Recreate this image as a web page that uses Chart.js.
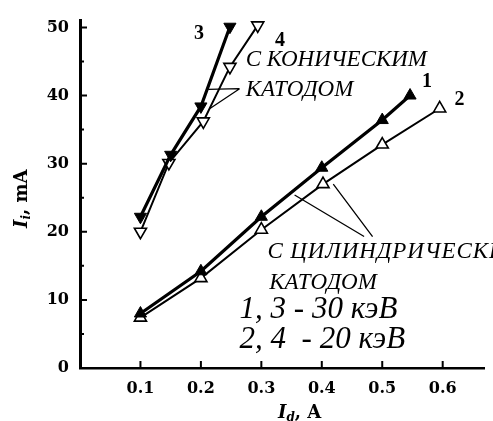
<!DOCTYPE html>
<html lang="ru">
<head>
    <meta charset="UTF-8">
    <title>Ii от Id</title>
    <script src="https://cdn.jsdelivr.net/npm/chart.js"></script>
    <style>
        body {
            margin: 0;
            padding: 0;
            background: #fff;
        }
        .chart-container {
            width: 493px;
            height: 421px;
        }
    </style>
</head>
<body>
    <div class="chart-container">
        <canvas id="ionChart" width="493" height="421"></canvas>
    </div>

    <script>
        // данные (Id в А, Ii в мА)
        const xS1 = [0.1, 0.2, 0.3, 0.4, 0.5, 0.546];
        const yS1 = [8.0, 14.2, 22.2, 29.4, 36.4, 40.0];

        const xS2 = [0.1, 0.2, 0.3, 0.402, 0.5, 0.595];
        const yS2 = [7.4, 13.2, 20.3, 27.0, 32.8, 38.1];

        const xS3 = [0.1, 0.15, 0.2, 0.248];
        const yS3 = [22.2, 31.3, 38.4, 50.1];

        const xS4 = [0.1, 0.147, 0.204, 0.248, 0.294];
        const yS4 = [20.0, 30.1, 36.2, 44.2, 50.3];

        const xTicks = [0.1, 0.2, 0.3, 0.4, 0.5, 0.6];
        const yTicks = [0, 10, 20, 30, 40, 50];
        const yMinorTicks = [5, 15, 25, 35, 45];

        function pts(xs, ys) {
            return xs.map((x, i) => ({ x: x, y: ys[i] }));
        }

        // подписи на поле графика
        const labels = [
            { text: '3', x: 0.197, y: 49.0, font: 'bold 20px "Liberation Serif"', align: 'center' },
            { text: '4', x: 0.331, y: 48.0, font: 'bold 20px "Liberation Serif"', align: 'center' },
            { text: '1', x: 0.574, y: 42.0, font: 'bold 20px "Liberation Serif"', align: 'center' },
            { text: '2', x: 0.628, y: 39.3, font: 'bold 20px "Liberation Serif"', align: 'center' },
            { text: 'С КОНИЧЕСКИМ', x: 0.274, y: 44.3, font: 'italic 23px "Liberation Serif"', align: 'left', base: true },
            { text: 'КАТОДОМ', x: 0.274, y: 39.9, font: 'italic 23px "Liberation Serif"', align: 'left', base: true },
            { text: 'С ЦИЛИНДРИЧЕСКИМ', x: 0.310, y: 16.1, font: 'italic 23px "Liberation Serif"', align: 'left', base: true, spacing: '0.9px' },
            { text: 'КАТОДОМ', x: 0.313, y: 11.6, font: 'italic 23px "Liberation Serif"', align: 'left', base: true },
            { text: '1, 3 - 30 кэВ', x: 0.264, y: 7.4, font: 'italic 31px "Liberation Serif"', align: 'left', base: true },
            { text: '2, 4  - 20 кэВ', x: 0.264, y: 3.0, font: 'italic 31px "Liberation Serif"', align: 'left', base: true }
        ];

        // выноски
        const leaders = [
            [[0.264, 41.0], [0.212, 40.9]],
            [[0.264, 41.0], [0.215, 38.1]],
            [[0.355, 25.4], [0.470, 19.3]],
            [[0.419, 27.0], [0.484, 19.3]]
        ];

        const decorPlugin = {
            id: 'decor',
            afterDatasetsDraw(chart) {
                const ctx = chart.ctx;
                const xs = chart.scales.x;
                const ys = chart.scales.y;
                const left = chart.chartArea.left;
                const bottom = chart.chartArea.bottom;
                ctx.save();
                ctx.strokeStyle = '#000';
                ctx.fillStyle = '#000';

                // засечки внутрь
                ctx.lineWidth = 2;
                ctx.beginPath();
                yTicks.forEach(v => {
                    const p = ys.getPixelForValue(v);
                    ctx.moveTo(left, p);
                    ctx.lineTo(left + 7, p);
                });
                yMinorTicks.forEach(v => {
                    const p = ys.getPixelForValue(v);
                    ctx.moveTo(left, p);
                    ctx.lineTo(left + 4, p);
                });
                xTicks.forEach(v => {
                    const p = xs.getPixelForValue(v);
                    ctx.moveTo(p, bottom);
                    ctx.lineTo(p, bottom - 7);
                });
                ctx.stroke();

                // выноски
                ctx.lineWidth = 1.3;
                ctx.beginPath();
                leaders.forEach(l => {
                    ctx.moveTo(xs.getPixelForValue(l[0][0]), ys.getPixelForValue(l[0][1]));
                    ctx.lineTo(xs.getPixelForValue(l[1][0]), ys.getPixelForValue(l[1][1]));
                });
                ctx.stroke();

                labels.forEach(t => {
                    ctx.font = t.font;
                    ctx.letterSpacing = t.spacing || '0px';
                    ctx.textAlign = t.align;
                    ctx.textBaseline = t.base ? 'alphabetic' : 'middle';
                    ctx.fillText(t.text, xs.getPixelForValue(t.x), ys.getPixelForValue(t.y));
                });
                ctx.letterSpacing = '0px';

                // подпись оси X: Id, A
                const bold = 'bold 18px "DejaVu Serif"';
                let cx = 278, cy = 418;
                ctx.textAlign = 'left';
                ctx.textBaseline = 'alphabetic';
                ctx.font = 'italic bold 18px "DejaVu Serif"';
                ctx.fillText('I', cx, cy);
                cx += ctx.measureText('I').width;
                ctx.font = 'italic bold 12px "DejaVu Serif"';
                ctx.fillText('d', cx, cy + 3);
                cx += ctx.measureText('d').width;
                ctx.font = bold;
                ctx.fillText(', A', cx, cy);

                // подпись оси Y: Ii, mA
                ctx.translate(27, 228);
                ctx.rotate(-Math.PI / 2);
                cx = 0;
                ctx.font = 'italic bold 18px "DejaVu Serif"';
                ctx.fillText('I', cx, 0);
                cx += ctx.measureText('I').width;
                ctx.font = 'italic bold 12px "DejaVu Serif"';
                ctx.fillText('i', cx, 3);
                cx += ctx.measureText('i').width;
                ctx.font = bold;
                ctx.fillText(', mA', cx, 0);
                ctx.restore();
            }
        };

        const filled = { pointBackgroundColor: '#000', pointBorderColor: '#000', pointBorderWidth: 1 };
        const open = { pointBackgroundColor: '#fff', pointBorderColor: '#000', pointBorderWidth: 1.6 };

        const ctx = document.getElementById('ionChart').getContext('2d');
        const chart = new Chart(ctx, {
            type: 'scatter',
            data: {
                datasets: [
                    Object.assign({ label: '1', data: pts(xS1, yS1), borderColor: '#000', borderWidth: 3.2,
                        pointStyle: 'triangle', pointRadius: 7, showLine: true }, filled),
                    Object.assign({ label: '2', data: pts(xS2, yS2), borderColor: '#000', borderWidth: 2,
                        pointStyle: 'triangle', pointRadius: 7, showLine: true }, open),
                    Object.assign({ label: '3', data: pts(xS3, yS3), borderColor: '#000', borderWidth: 3.2,
                        pointStyle: 'triangle', rotation: 180, pointRadius: 7, showLine: true }, filled),
                    Object.assign({ label: '4', data: pts(xS4, yS4), borderColor: '#000', borderWidth: 2,
                        pointStyle: 'triangle', rotation: 180, pointRadius: 7, showLine: true }, open)
                ]
            },
            options: {
                responsive: false,
                animation: false,
                layout: { padding: { top: 16, right: 3, left: 0, bottom: 0 } },
                plugins: {
                    legend: { display: false },
                    tooltip: { enabled: false }
                },
                scales: {
                    x: {
                        type: 'linear',
                        min: 0,
                        max: 0.669,
                        afterBuildTicks: s => { s.ticks = xTicks.map(v => ({ value: v })); },
                        afterFit: s => { s.height = 53; },
                        grid: { display: false, drawTicks: false },
                        border: { display: true, color: '#000', width: 2.5 },
                        ticks: {
                            color: '#000',
                            padding: 11,
                            maxRotation: 0,
                            font: { family: 'DejaVu Serif', weight: 'bold', size: 16 },
                            callback: v => v.toFixed(1)
                        }
                    },
                    y: {
                        type: 'linear',
                        min: 0,
                        max: 51,
                        afterBuildTicks: s => { s.ticks = yTicks.map(v => ({ value: v })); },
                        afterFit: s => { s.width = 80; },
                        grid: { display: false, drawTicks: false },
                        border: { display: true, color: '#000', width: 3 },
                        ticks: {
                            color: '#000',
                            padding: 11,
                            font: { family: 'DejaVu Serif', weight: 'bold', size: 16 }
                        }
                    }
                }
            },
            plugins: [decorPlugin]
        });
    </script>
</body>
</html>
